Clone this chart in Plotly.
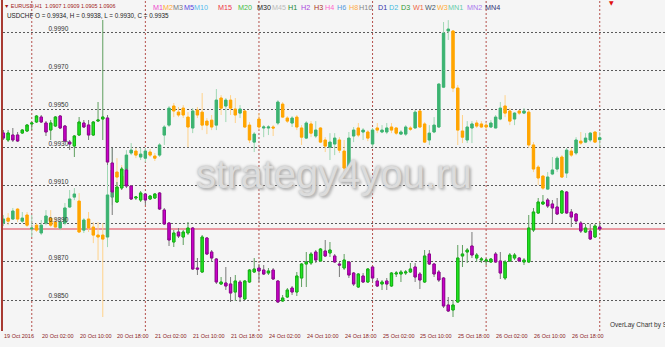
import numpy as np
import plotly.graph_objects as go

# ---------------- data (H1 bars, index 0 = 20 Oct 2016 00:00) ----------------
bar_index = list(range(-6, 121))

usdchf_open = [
    0.98903, 0.98929, 0.98924, 0.98976, 0.98913, 0.98945, 0.98872, 0.98892, 0.98851, 0.98903,
    0.98929, 0.98908, 0.98877, 0.98903, 0.98987, 0.99039, 0.99018, 0.98866, 0.98924, 0.98882,
    0.98840, 0.98840, 0.98830, 0.99039, 0.99170, 0.99149, 0.99102, 0.99270, 0.99280, 0.99249,
    0.99243, 0.99275, 0.99254, 0.99259, 0.99364, 0.99416, 0.99516, 0.99484, 0.99505, 0.99458,
    0.99401, 0.99495, 0.99484, 0.99437, 0.99442, 0.99416, 0.99558, 0.99516, 0.99547, 0.99500,
    0.99479, 0.99490, 0.99416, 0.99327, 0.99448, 0.99401, 0.99401, 0.99406, 0.99427, 0.99526,
    0.99453, 0.99427, 0.99458, 0.99401, 0.99348, 0.99422, 0.99359, 0.99401, 0.99338, 0.99301,
    0.99317, 0.99338, 0.99280, 0.99191, 0.99359, 0.99401, 0.99380, 0.99380, 0.99317, 0.99401,
    0.99380, 0.99380, 0.99406, 0.99401, 0.99369, 0.99369, 0.99401, 0.99401, 0.99490, 0.99422,
    0.99338, 0.99380, 0.99406, 0.99615, 0.99909, 0.99909, 0.99610, 0.99385, 0.99338, 0.99401,
    0.99427, 0.99422, 0.99416, 0.99406, 0.99401, 0.99448, 0.99516, 0.99490, 0.99448, 0.99490,
    0.99479, 0.99484, 0.99312, 0.99196, 0.99149, 0.99081, 0.99160, 0.99186, 0.99249, 0.99165,
    0.99280, 0.99270, 0.99332, 0.99327, 0.99338, 0.99380, 0.99340]
usdchf_high = [
    0.98945, 0.98955, 0.98982, 0.98982, 0.98961, 0.98961, 0.98945, 0.98903, 0.98919, 0.98971,
    0.98971, 0.98929, 0.98929, 0.99008, 0.99076, 0.99086, 0.99060, 0.98929, 0.98961, 0.98908,
    0.98908, 0.98903, 0.99259, 0.99296, 0.99243, 0.99207, 0.99285, 0.99322, 0.99296, 0.99296,
    0.99296, 0.99291, 0.99270, 0.99322, 0.99416, 0.99516, 0.99532, 0.99511, 0.99521, 0.99484,
    0.99505, 0.99511, 0.99584, 0.99453, 0.99469, 0.99605, 0.99573, 0.99558, 0.99573, 0.99558,
    0.99521, 0.99495, 0.99432, 0.99380, 0.99479, 0.99416, 0.99416, 0.99416, 0.99547, 0.99537,
    0.99463, 0.99463, 0.99469, 0.99416, 0.99437, 0.99437, 0.99437, 0.99406, 0.99353, 0.99374,
    0.99374, 0.99353, 0.99338, 0.99380, 0.99406, 0.99427, 0.99401, 0.99390, 0.99401, 0.99427,
    0.99416, 0.99427, 0.99427, 0.99406, 0.99390, 0.99416, 0.99411, 0.99495, 0.99495, 0.99432,
    0.99416, 0.99458, 0.99636, 0.99956, 0.99966, 0.99914, 0.99626, 0.99469, 0.99437, 0.99437,
    0.99442, 0.99437, 0.99432, 0.99442, 0.99469, 0.99537, 0.99573, 0.99505, 0.99484, 0.99495,
    0.99505, 0.99495, 0.99327, 0.99207, 0.99154, 0.99170, 0.99249, 0.99254, 0.99259, 0.99296,
    0.99296, 0.99353, 0.99380, 0.99374, 0.99380, 0.99380, 0.99380]
usdchf_low = [
    0.98887, 0.98892, 0.98919, 0.98908, 0.98903, 0.98882, 0.98830, 0.98856, 0.98840, 0.98892,
    0.98882, 0.98877, 0.98866, 0.98892, 0.98982, 0.99023, 0.98851, 0.98851, 0.98856, 0.98798,
    0.98709, 0.98411, 0.98777, 0.98997, 0.99076, 0.99076, 0.99086, 0.99259, 0.99243, 0.99233,
    0.99222, 0.99249, 0.99228, 0.99249, 0.99312, 0.99406, 0.99458, 0.99458, 0.99453, 0.99301,
    0.99374, 0.99453, 0.99390, 0.99369, 0.99390, 0.99390, 0.99469, 0.99432, 0.99469, 0.99427,
    0.99453, 0.99401, 0.99322, 0.99275, 0.99390, 0.99353, 0.99364, 0.99359, 0.99416, 0.99453,
    0.99427, 0.99406, 0.99390, 0.99312, 0.99343, 0.99353, 0.99348, 0.99322, 0.99275, 0.99233,
    0.99259, 0.99270, 0.99139, 0.99181, 0.99327, 0.99353, 0.99338, 0.99332, 0.99301, 0.99374,
    0.99374, 0.99369, 0.99374, 0.99364, 0.99364, 0.99359, 0.99385, 0.99401, 0.99401, 0.99322,
    0.99312, 0.99374, 0.99401, 0.99610, 0.99862, 0.99589, 0.99312, 0.99322, 0.99322, 0.99322,
    0.99401, 0.99401, 0.99390, 0.99401, 0.99401, 0.99442, 0.99458, 0.99416, 0.99416, 0.99469,
    0.99474, 0.99296, 0.99170, 0.99102, 0.99076, 0.99076, 0.99154, 0.99170, 0.99139, 0.99139,
    0.99249, 0.99259, 0.99312, 0.99322, 0.99327, 0.99322, 0.99300]
usdchf_close = [
    0.98924, 0.98913, 0.98966, 0.98924, 0.98929, 0.98892, 0.98877, 0.98866, 0.98892, 0.98940,
    0.98892, 0.98882, 0.98908, 0.98982, 0.99029, 0.99055, 0.98856, 0.98919, 0.98877, 0.98840,
    0.98830, 0.98819, 0.99050, 0.99181, 0.99144, 0.99102, 0.99259, 0.99285, 0.99259, 0.99264,
    0.99280, 0.99259, 0.99243, 0.99312, 0.99406, 0.99505, 0.99490, 0.99469, 0.99469, 0.99406,
    0.99490, 0.99469, 0.99416, 0.99416, 0.99406, 0.99547, 0.99505, 0.99547, 0.99505, 0.99469,
    0.99500, 0.99406, 0.99338, 0.99369, 0.99406, 0.99406, 0.99406, 0.99401, 0.99537, 0.99458,
    0.99437, 0.99453, 0.99406, 0.99353, 0.99427, 0.99374, 0.99390, 0.99327, 0.99306, 0.99327,
    0.99348, 0.99285, 0.99191, 0.99348, 0.99390, 0.99364, 0.99390, 0.99348, 0.99390, 0.99390,
    0.99390, 0.99401, 0.99390, 0.99374, 0.99380, 0.99406, 0.99395, 0.99484, 0.99406, 0.99327,
    0.99374, 0.99416, 0.99631, 0.99898, 0.99919, 0.99610, 0.99390, 0.99353, 0.99406, 0.99422,
    0.99411, 0.99406, 0.99406, 0.99427, 0.99458, 0.99505, 0.99479, 0.99437, 0.99479, 0.99479,
    0.99490, 0.99312, 0.99186, 0.99139, 0.99086, 0.99144, 0.99181, 0.99243, 0.99144, 0.99285,
    0.99259, 0.99338, 0.99322, 0.99348, 0.99374, 0.99327, 0.99350]

eurusd_open = [
    1.09540, 1.09505, 1.09530, 1.09530, 1.09540, 1.09550, 1.09585, 1.09595, 1.09620, 1.09590,
    1.09555, 1.09575, 1.09625, 1.09575, 1.09495, 1.09475, 1.09530, 1.09590, 1.09580, 1.09530,
    1.09600, 1.09610, 1.09615, 1.09390, 1.09195, 1.09265, 1.09355, 1.09275, 1.09215, 1.09205,
    1.09235, 1.09210, 1.09215, 1.09240, 1.09155, 1.09090, 1.08995, 1.09045, 1.09020, 1.09040,
    1.09065, 1.08865, 1.08845, 1.09015, 1.08945, 1.08910, 1.08785, 1.08790, 1.08785, 1.08745,
    1.08795, 1.08710, 1.08795, 1.08845, 1.08865, 1.08855, 1.08840, 1.08855, 1.08800, 1.08700,
    1.08720, 1.08765, 1.08745, 1.08815, 1.08885, 1.08890, 1.08945, 1.08900, 1.08950, 1.08940,
    1.08925, 1.08885, 1.08865, 1.08895, 1.08840, 1.08770, 1.08825, 1.08795, 1.08870, 1.08800,
    1.08785, 1.08800, 1.08775, 1.08835, 1.08835, 1.08840, 1.08845, 1.08870, 1.08835, 1.08795,
    1.08935, 1.08885, 1.08845, 1.08815, 1.08680, 1.08655, 1.08695, 1.08925, 1.08945, 1.08975,
    1.08915, 1.08905, 1.08900, 1.08895, 1.08935, 1.08900, 1.08815, 1.08900, 1.08915, 1.08915,
    1.08895, 1.08895, 1.09055, 1.09140, 1.09185, 1.09205, 1.09185, 1.09170, 1.09140, 1.09245,
    1.09145, 1.09135, 1.09090, 1.09045, 1.09050, 1.09020, 1.09070]
eurusd_high = [
    1.09555, 1.09555, 1.09565, 1.09545, 1.09560, 1.09585, 1.09595, 1.09630, 1.09630, 1.09600,
    1.09605, 1.09625, 1.09630, 1.09580, 1.09505, 1.09530, 1.09620, 1.09605, 1.09605, 1.09600,
    1.09695, 1.10105, 1.09630, 1.09465, 1.09295, 1.09370, 1.09365, 1.09280, 1.09225, 1.09250,
    1.09240, 1.09230, 1.09240, 1.09245, 1.09165, 1.09095, 1.09055, 1.09065, 1.09055, 1.09095,
    1.09070, 1.08915, 1.09030, 1.09020, 1.08955, 1.08915, 1.08820, 1.08870, 1.08820, 1.08830,
    1.08805, 1.08805, 1.08860, 1.08915, 1.08885, 1.08880, 1.08865, 1.08865, 1.08805, 1.08730,
    1.08765, 1.08775, 1.08845, 1.08890, 1.08945, 1.08945, 1.08955, 1.08965, 1.09005, 1.08995,
    1.08935, 1.08895, 1.08935, 1.08900, 1.08845, 1.08840, 1.08840, 1.08865, 1.08875, 1.08815,
    1.08805, 1.08815, 1.08845, 1.08850, 1.08855, 1.08855, 1.08890, 1.08890, 1.08845, 1.08955,
    1.08955, 1.08890, 1.08855, 1.08820, 1.08720, 1.08705, 1.08980, 1.08980, 1.08965, 1.09045,
    1.08940, 1.08920, 1.08915, 1.08915, 1.08945, 1.08945, 1.08905, 1.08940, 1.08940, 1.08920,
    1.08915, 1.09130, 1.09165, 1.09215, 1.09230, 1.09215, 1.09205, 1.09215, 1.09255, 1.09250,
    1.09160, 1.09140, 1.09100, 1.09085, 1.09085, 1.09085, 1.09090]
eurusd_low = [
    1.09505, 1.09495, 1.09495, 1.09495, 1.09535, 1.09545, 1.09555, 1.09590, 1.09590, 1.09525,
    1.09505, 1.09570, 1.09560, 1.09495, 1.09455, 1.09420, 1.09525, 1.09565, 1.09505, 1.09525,
    1.09595, 1.09505, 1.09380, 1.09130, 1.09190, 1.09255, 1.09265, 1.09205, 1.09205, 1.09195,
    1.09180, 1.09205, 1.09210, 1.09155, 1.09080, 1.08975, 1.08970, 1.09015, 1.08980, 1.09030,
    1.08855, 1.08830, 1.08840, 1.08930, 1.08895, 1.08785, 1.08780, 1.08755, 1.08695, 1.08700,
    1.08695, 1.08705, 1.08790, 1.08840, 1.08795, 1.08830, 1.08830, 1.08805, 1.08690, 1.08695,
    1.08715, 1.08730, 1.08725, 1.08770, 1.08770, 1.08880, 1.08890, 1.08895, 1.08920, 1.08920,
    1.08890, 1.08820, 1.08855, 1.08815, 1.08775, 1.08765, 1.08790, 1.08790, 1.08795, 1.08770,
    1.08755, 1.08755, 1.08770, 1.08820, 1.08795, 1.08830, 1.08840, 1.08795, 1.08760, 1.08790,
    1.08880, 1.08820, 1.08795, 1.08665, 1.08645, 1.08620, 1.08690, 1.08870, 1.08890, 1.08915,
    1.08895, 1.08890, 1.08880, 1.08890, 1.08890, 1.08810, 1.08805, 1.08895, 1.08905, 1.08895,
    1.08880, 1.08890, 1.09045, 1.09135, 1.09180, 1.09165, 1.09090, 1.09130, 1.09135, 1.09135,
    1.09070, 1.09090, 1.09040, 1.09040, 1.09005, 1.09015, 1.09050]
eurusd_close = [
    1.09515, 1.09540, 1.09505, 1.09500, 1.09555, 1.09580, 1.09590, 1.09625, 1.09595, 1.09545,
    1.09590, 1.09620, 1.09565, 1.09500, 1.09485, 1.09525, 1.09595, 1.09570, 1.09530, 1.09595,
    1.09605, 1.09620, 1.09395, 1.09245, 1.09270, 1.09360, 1.09275, 1.09210, 1.09220, 1.09240,
    1.09205, 1.09225, 1.09235, 1.09160, 1.09085, 1.09005, 1.09040, 1.09025, 1.09045, 1.09065,
    1.08860, 1.08860, 1.09020, 1.08935, 1.08915, 1.08795, 1.08795, 1.08775, 1.08740, 1.08800,
    1.08720, 1.08800, 1.08855, 1.08860, 1.08850, 1.08835, 1.08850, 1.08810, 1.08695, 1.08715,
    1.08755, 1.08745, 1.08825, 1.08885, 1.08895, 1.08935, 1.08905, 1.08960, 1.08925, 1.08955,
    1.08895, 1.08880, 1.08905, 1.08830, 1.08785, 1.08835, 1.08795, 1.08860, 1.08815, 1.08775,
    1.08795, 1.08785, 1.08840, 1.08840, 1.08845, 1.08845, 1.08860, 1.08820, 1.08805, 1.08925,
    1.08885, 1.08835, 1.08805, 1.08675, 1.08650, 1.08680, 1.08915, 1.08935, 1.08955, 1.08930,
    1.08930, 1.08910, 1.08905, 1.08910, 1.08895, 1.08840, 1.08895, 1.08930, 1.08930, 1.08900,
    1.08905, 1.09065, 1.09145, 1.09195, 1.09195, 1.09175, 1.09165, 1.09135, 1.09250, 1.09140,
    1.09120, 1.09100, 1.09050, 1.09065, 1.09010, 1.09075, 1.09060]

time_tick_index = [-6, 2, 10, 18, 26, 34, 42, 50, 58, 66, 74, 82, 90, 98, 106, 114]
time_tick_text = ["19 Oct 2016", "20 Oct 02:00", "20 Oct 10:00", "20 Oct 18:00",
                  "21 Oct 02:00", "21 Oct 10:00", "21 Oct 18:00", "24 Oct 02:00",
                  "24 Oct 10:00", "24 Oct 18:00", "25 Oct 02:00", "25 Oct 10:00",
                  "25 Oct 18:00", "26 Oct 02:00", "26 Oct 10:00", "26 Oct 18:00"]
day_start_index = [0, 24, 48, 72, 96, 120]
price_ticks = [0.9850, 0.9870, 0.9890, 0.9910, 0.9930, 0.9950, 0.9970, 0.9990]

timeframes = ["M1", "M2", "M3", "M5", "M10", "M15", "M20", "M30", "M45", "H1", "H2", "H3", "H4",
              "H6", "H8", "H16", "D1", "D2", "D3", "W1", "W2", "W3", "MN1", "MN2", "MN4"]

# ---------------- styling / layout constants ----------------
W, H = 665, 347
ML, MR, MT, MB = 3, 0, 0, 16
PW, PH = W - ML - MR, H - MT - MB
BG = "#f5f5f5"

tf_colors = ["#ee44cc", "#ffaa33", "#777777", "#5544dd", "#55bbee", "#ee3344", "#44bb44",
             "#222222", "#bbbbbb", "#228833", "#aa44dd", "#aa3322", "#ff66cc", "#5599dd",
             "#ffaa44", "#888888", "#3333aa", "#44bbdd", "#339933", "#ee6644", "#445566",
             "#ffaa33", "#66ccaa", "#aa77ee", "#333377"]
tf_left_px = [150.5, 161.2, 171, 181.5, 192, 216, 236, 255, 269.8, 286, 299, 311.7, 322.7,
              335, 346.7, 357, 376, 387, 399, 411, 422.6, 434.5, 446.5, 465, 482.7]

BAR_PX = 4.733
x_range = [-6.08, -6.08 + PW / BAR_PX]
y_range = [0.983376, 1.000714]        # USDCHF scale
y2_range = [1.08550, 1.10205]         # EURUSD overlay scale


def paper(px, py):
    return (px - ML) / PW, (MT + PH - py) / PH


fig = go.Figure()


def add_candles(o, h, l, c, yaxis, inc_fill, dec_fill, inc_line, dec_line, inc_wick, dec_wick, name):
    o = np.array(o)
    c = np.array(c)
    # wicks (full range)
    fig.add_trace(go.Candlestick(
        x=bar_index, open=o, high=h, low=l, close=c, yaxis=yaxis, name=name,
        increasing=dict(line=dict(color=inc_wick, width=1), fillcolor=inc_wick),
        decreasing=dict(line=dict(color=dec_wick, width=1), fillcolor=dec_wick),
        whiskerwidth=0, showlegend=False, hoverinfo="skip"))
    # bodies
    fig.add_trace(go.Candlestick(
        x=bar_index, open=o, high=np.maximum(o, c), low=np.minimum(o, c), close=c,
        yaxis=yaxis, name=name,
        increasing=dict(line=dict(color=inc_line, width=1), fillcolor=inc_fill),
        decreasing=dict(line=dict(color=dec_line, width=1), fillcolor=dec_fill),
        whiskerwidth=0, showlegend=False, hoverinfo="skip"))


add_candles(usdchf_open, usdchf_high, usdchf_low, usdchf_close, "y",
            "#3cb371", "#ffa500", "#3cb371", "#ffa500", "#9fd8b4", "#ffd28a", "USDCHF")
add_candles(eurusd_open, eurusd_high, eurusd_low, eurusd_close, "y2",
            "#22e622", "#cc00cc", "#14b414", "#960096", "#5f9f5f", "#7a7a7a", "EURUSD")

annotations = []

# header lines
eo, eh, el, ec = eurusd_open[-1], eurusd_high[-1], eurusd_low[-1], eurusd_close[-1]
uo, uh, ul, uc = usdchf_open[-1], usdchf_high[-1], usdchf_low[-1], usdchf_close[-1]
x0, y0 = paper(1.5, 5.8)
annotations.append(dict(x=x0, y=y0, xref="paper", yref="paper", xanchor="left", yanchor="middle",
                        showarrow=False,
                        text=f"▼ EURUSD,H1  {eo:.4f} {eh:.4f} {el:.4f} {ec:.4f}",
                        font=dict(family="Liberation Sans", size=5.4, color="#a01818")))
x0, y0 = paper(4.5, 15.8)
annotations.append(dict(x=x0, y=y0, xref="paper", yref="paper", xanchor="left", yanchor="middle",
                        showarrow=False,
                        text=f"USDCHF O = {uo:.4f}, H = {uh:.4f}, L = {ul:.4f}, C = {uc:.4f}",
                        font=dict(family="Liberation Sans", size=6.3, color="#222222")))

# timeframe buttons
for tf, col, lx in zip(timeframes, tf_colors, tf_left_px):
    x0, y0 = paper(lx, 7.5)
    annotations.append(dict(x=x0, y=y0, xref="paper", yref="paper", xanchor="left",
                            yanchor="middle", showarrow=False, text=tf,
                            font=dict(family="Liberation Sans", size=7.2, color=col)))

# time-axis labels (left-aligned at their bar, MT4 style)
_, ty = paper(0, 336)
for ti, tt in zip(time_tick_index, time_tick_text):
    annotations.append(dict(x=ti, y=ty, xref="x", yref="paper", xanchor="left",
                            yanchor="middle", xshift=-1.5, showarrow=False, text=tt,
                            font=dict(family="Liberation Sans", size=5.5, color="#8b2323")))

# watermark
wx, wy = paper(334, 174)
annotations.append(dict(x=wx, y=wy, xref="paper", yref="paper", xanchor="center",
                        yanchor="middle", showarrow=False, text="strategy4you.ru",
                        font=dict(family="Liberation Sans", size=40, color="#dcdcdc",
                                  shadow="0px 0px 3px #a8a8a8, 2px 2px 3px #b4b4b4")))

# bottom-right credit
x0, y0 = paper(607.5, 325)
annotations.append(dict(x=x0, y=y0, xref="paper", yref="paper", xanchor="left", yanchor="middle",
                        showarrow=False, text="OverLay Chart by Sohocool",
                        font=dict(family="Liberation Sans", size=6.5, color="#333333")))
# small red marker at top
x0, y0 = paper(611, 2.5)
annotations.append(dict(x=x0, y=y0, xref="paper", yref="paper", xanchor="center",
                        yanchor="middle", showarrow=False, text="▼",
                        font=dict(family="DejaVu Sans", size=6, color="#e01010")))

shapes = [dict(type="line", xref="paper", x0=0, x1=1, yref="y2", y0=ec, y1=ec,
               line=dict(color="#e57a84", width=1.5), layer="below")]
for d in day_start_index:
    shapes.append(dict(type="line", xref="x", x0=d, x1=d, yref="paper", y0=0, y1=1,
                       line=dict(color="#b5514c", width=1, dash="2px,2px"), layer="below"))

fig.update_layout(
    width=W, height=H, margin=dict(l=ML, r=MR, t=MT, b=MB),
    paper_bgcolor=BG, plot_bgcolor=BG, showlegend=False,
    annotations=annotations, shapes=shapes,
    xaxis=dict(range=x_range, rangeslider=dict(visible=False), showgrid=False,
               zeroline=False, showline=False, showticklabels=False, ticks="",
               automargin=False),
    yaxis=dict(range=y_range, tickmode="array", tickvals=price_ticks,
               ticktext=[f"{p:.4f}" for p in price_ticks],
               showgrid=True, gridcolor="#5a5a5a", griddash="2px,2px", gridwidth=1,
               zeroline=False, showline=True, linecolor="#a83a32", linewidth=1.5,
               ticks="", ticklabelposition="inside", ticklabelstandoff=44,
               ticklabelshift=-4, automargin=False,
               tickfont=dict(family="Liberation Sans", size=6.5, color="#333333")),
    yaxis2=dict(range=y2_range, overlaying="y", side="right", showgrid=False,
                zeroline=False, showticklabels=False, showline=False, ticks=""),
)

fig.write_html("out.html", include_plotlyjs=True, full_html=True,
               config={"displayModeBar": False, "responsive": False})
